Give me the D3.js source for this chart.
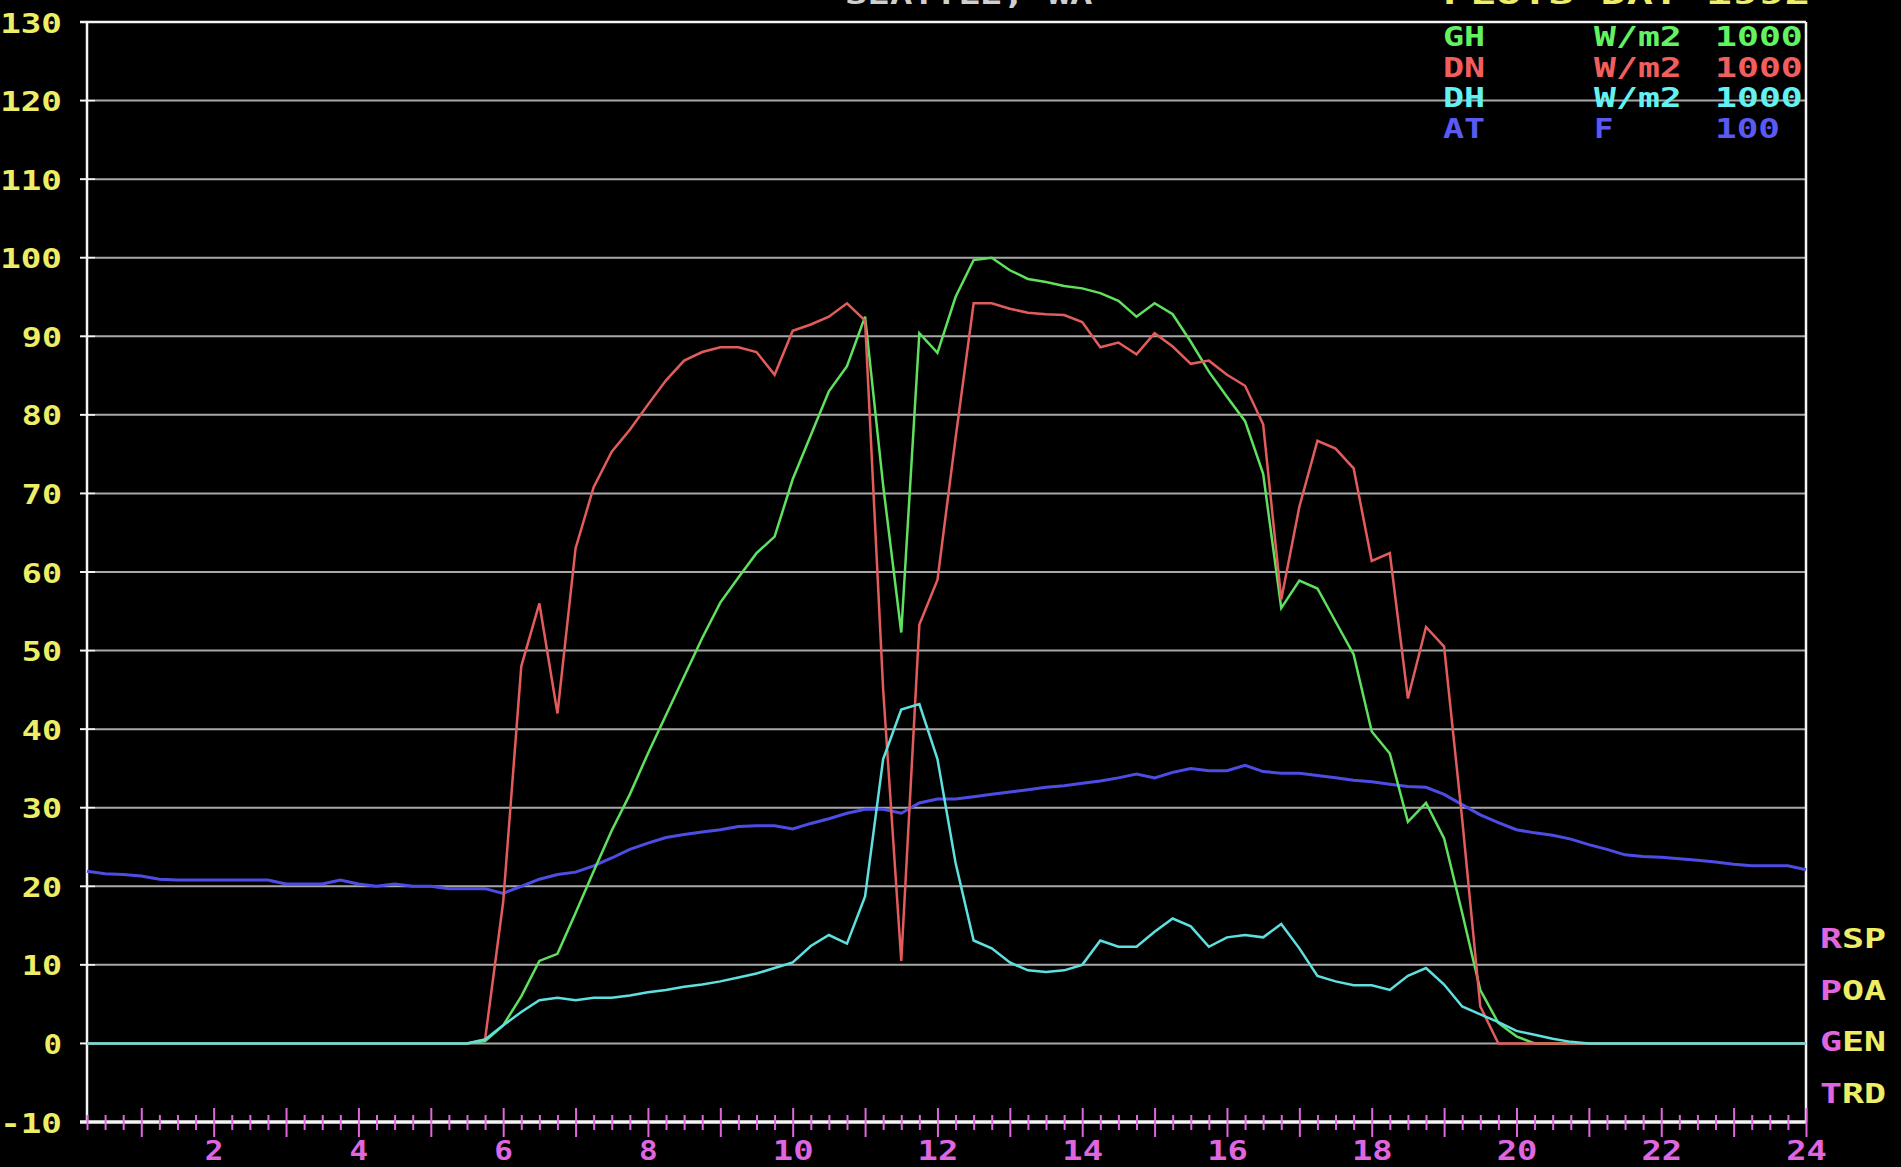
<!DOCTYPE html>
<html>
<head>
<meta charset="utf-8">
<script src="https://cdn.jsdelivr.net/npm/d3@7"></script>
<style>
	html, body { margin: 0; padding: 0; background: #000; overflow: hidden; }
	svg { display: block; }
</style>
</head>
<body>
<svg id="chart" width="1901" height="1167"></svg>
<script>
// 15 minute slots, 0:15 .. 24:00
const hours = [
	0.25, 0.5, 0.75, 1, 1.25, 1.5, 1.75, 2, 2.25, 2.5, 2.75, 3, 3.25, 3.5, 3.75, 4,
	4.25, 4.5, 4.75, 5, 5.25, 5.5, 5.75, 6, 6.25, 6.5, 6.75, 7, 7.25, 7.5, 7.75, 8,
	8.25, 8.5, 8.75, 9, 9.25, 9.5, 9.75, 10, 10.25, 10.5, 10.75, 11, 11.25, 11.5, 11.75, 12,
	12.25, 12.5, 12.75, 13, 13.25, 13.5, 13.75, 14, 14.25, 14.5, 14.75, 15, 15.25, 15.5, 15.75, 16,
	16.25, 16.5, 16.75, 17, 17.25, 17.5, 17.75, 18, 18.25, 18.5, 18.75, 19, 19.25, 19.5, 19.75, 20,
	20.25, 20.5, 20.75, 21, 21.25, 21.5, 21.75, 22, 22.25, 22.5, 22.75, 23, 23.25, 23.5, 23.75, 24
];

// GH - global horizontal (W/m2 / 10)
const ghValues = [
	0, 0, 0, 0, 0, 0, 0, 0, 0, 0, 0, 0, 0, 0, 0, 0,
	0, 0, 0, 0, 0, 0, 0.3, 2.3, 6, 10.5, 11.4, 16.6, 21.9, 27.1, 31.7, 36.9,
	41.8, 46.7, 51.6, 56.1, 59.3, 62.4, 64.5, 71.8, 77.4, 83, 86.2, 92.5, 71, 52.3, 90.4, 87.9,
	95, 99.7, 100, 98.4, 97.3, 96.9, 96.4, 96.1, 95.5, 94.5, 92.5, 94.2, 92.8, 89.3, 85.5, 82.3,
	79.2, 72.5, 55.4, 58.9, 57.9, 53.7, 49.5, 39.7, 36.9, 28.2, 30.6, 26.1, 16.6, 6.8, 2.6, 0.9,
	0, 0, 0, 0, 0, 0, 0, 0, 0, 0, 0, 0, 0, 0, 0, 0
];

// DN - direct normal
const dnValues = [
	0, 0, 0, 0, 0, 0, 0, 0, 0, 0, 0, 0, 0, 0, 0, 0,
	0, 0, 0, 0, 0, 0, 0.5, 18, 48, 56, 42, 63, 70.8, 75.3, 78.1, 81.3,
	84.4, 86.9, 88, 88.6, 88.6, 88, 85.1, 90.7, 91.5, 92.5, 94.2, 92, 45, 10.5, 53.3, 59,
	77, 94.2, 94.2, 93.5, 93, 92.8, 92.7, 91.8, 88.6, 89.2, 87.7, 90.4, 88.7, 86.5, 86.9, 85.1,
	83.7, 78.8, 56.5, 68.3, 76.7, 75.7, 73.2, 61.4, 62.4, 43.9, 53, 50.5, 28.5, 4.7, 0, 0,
	0, 0, 0, 0, 0, 0, 0, 0, 0, 0, 0, 0, 0, 0, 0, 0
];

// DH - diffuse horizontal
const dhValues = [
	0, 0, 0, 0, 0, 0, 0, 0, 0, 0, 0, 0, 0, 0, 0, 0,
	0, 0, 0, 0, 0, 0, 0.5, 2.3, 4, 5.5, 5.8, 5.5, 5.8, 5.8, 6.1, 6.5,
	6.8, 7.2, 7.5, 7.9, 8.4, 8.9, 9.6, 10.3, 12.4, 13.8, 12.7, 18.7, 36.2, 42.5, 43.2, 36.2,
	23, 13.1, 12.1, 10.3, 9.3, 9.1, 9.3, 10, 13.1, 12.3, 12.3, 14.2, 15.9, 14.9, 12.3, 13.5,
	13.8, 13.5, 15.2, 12.1, 8.6, 7.9, 7.4, 7.4, 6.8, 8.6, 9.6, 7.5, 4.7, 3.7, 2.7, 1.6,
	1.1, 0.6, 0.2, 0, 0, 0, 0, 0, 0, 0, 0, 0, 0, 0, 0, 0
];

// AT - air temperature (F)
const atValues = [
	21.9, 21.6, 21.5, 21.3, 20.9, 20.8, 20.8, 20.8, 20.8, 20.8, 20.8, 20.3, 20.3, 20.3, 20.8, 20.3,
	20, 20.3, 20, 20, 19.7, 19.7, 19.7, 19.1, 20, 20.9, 21.5, 21.8, 22.6, 23.6, 24.7, 25.5,
	26.2, 26.6, 26.9, 27.2, 27.6, 27.7, 27.7, 27.3, 28, 28.6, 29.3, 29.8, 29.8, 29.3, 30.6, 31.1,
	31.1, 31.4, 31.7, 32, 32.3, 32.6, 32.8, 33.1, 33.4, 33.8, 34.3, 33.8, 34.5, 35, 34.7, 34.7,
	35.4, 34.6, 34.4, 34.4, 34.1, 33.8, 33.5, 33.3, 33, 32.7, 32.6, 31.7, 30.4, 29.1, 28.1, 27.2,
	26.8, 26.5, 26, 25.3, 24.7, 24, 23.8, 23.7, 23.5, 23.3, 23.1, 22.8, 22.6, 22.6, 22.6, 22.1
];

const yTicks = [-10, 0, 10, 20, 30, 40, 50, 60, 70, 80, 90, 100, 110, 120, 130];
const xLabelTicks = [2, 4, 6, 8, 10, 12, 14, 16, 18, 20, 22, 24];

const seriesNames = ['GH', 'DN', 'DH', 'AT'];
const seriesUnits = ['W/m2', 'W/m2', 'W/m2', 'F'];
const seriesScales = ['1000', '1000', '1000', '100'];
const sideLabels = ['RSP', 'POA', 'GEN', 'TRD'];
const titleLeft = 'SEATTLE, WA';
const titleRight = 'PLOTS  DAY  1992';

const lineColors = { GH: '#5fe05f', DN: '#e25c5c', DH: '#5fe0e0', AT: '#4d4de6' };
const textColors = { GH: '#62f262', DN: '#f25e5e', DH: '#62f2f2', AT: '#5a5af2' };
const [yellow, magenta, gray, white] = ['#eeee66', '#e066e0', '#a8a8a8', '#f4f4f4'];

const [plotLeft, plotRight, plotTop, plotBottom] = [87, 1806, 22, 1122];
const font = "'DejaVu Sans Mono', 'Liberation Mono', monospace";
const [fontSize, capHalf] = [27, 10];

const x = d3.scaleLinear([0.25, 24], [plotLeft, plotRight]);
const y = d3.scaleLinear([-10, 130], [plotBottom, plotTop]);

const svg = d3.select('#chart');
svg.append('rect').attr('width', 1901).attr('height', 1167).attr('fill', '#000');

// blocky wide text: stretch each string to a fixed character cell
// (text-anchor is forced to start, d3 axis groups set their own anchor)
function blockText(g, str, px, py, color, cell, anchor) {
	const w = str.length * cell - cell * 0.15;
	const left = anchor === 'end' ? px - w : anchor === 'middle' ? px - w / 2 : px;
	return g
		.append('text')
		.attr('x', left)
		.attr('y', py + capHalf)
		.attr('text-anchor', 'start')
		.attr('fill', color)
		.attr('font-family', font)
		.attr('font-weight', 'bold')
		.attr('font-size', fontSize)
		.attr('textLength', w)
		.attr('lengthAdjust', 'spacingAndGlyphs')
		.text(str);
}

// grid lines (gray) with short white stubs left of the axis
const grid = svg.append('g');
grid
	.selectAll('line.grid')
	.data(yTicks.filter(v => v !== 130 && v !== -10))
	.join('line')
	.attr('x1', plotLeft + 8)
	.attr('x2', plotRight)
	.attr('y1', d => y(d))
	.attr('y2', d => y(d))
	.attr('stroke', gray)
	.attr('stroke-width', 2);
grid
	.selectAll('line.stub')
	.data(yTicks)
	.join('line')
	.attr('x1', plotLeft - 7)
	.attr('x2', plotLeft + 8)
	.attr('y1', d => y(d))
	.attr('y2', d => y(d))
	.attr('stroke', white)
	.attr('stroke-width', 2);

// frame: top, left, right
grid.append('line').attr('x1', plotLeft - 7).attr('x2', plotRight).attr('y1', y(130)).attr('y2', y(130)).attr('stroke', white).attr('stroke-width', 2.5);
grid.append('line').attr('x1', plotLeft).attr('x2', plotLeft).attr('y1', y(130)).attr('y2', y(-10)).attr('stroke', white).attr('stroke-width', 2.5);
grid.append('line').attr('x1', plotRight).attr('x2', plotRight).attr('y1', y(130)).attr('y2', y(-10)).attr('stroke', white).attr('stroke-width', 2.5);

// y axis labels
svg
	.append('g')
	.attr('transform', `translate(${plotLeft},0)`)
	.call(d3.axisLeft(y).tickValues(yTicks).tickSize(0).tickFormat(''))
	.call(g => g.select('.domain').remove())
	.selectAll('.tick')
	.each(function (d) {
		blockText(d3.select(this), String(d), -25, 0, yellow, 21.7, 'end');
	});

// x axis: white base line, magenta 15 min ticks, bigger ones every hour
const xAxis = svg
	.append('g')
	.attr('transform', `translate(0,${plotBottom})`)
	.call(d3.axisBottom(x).tickValues(hours).tickSize(0).tickFormat(''));
xAxis.select('.domain').remove();
xAxis
	.insert('line', ':first-child')
	.attr('x1', plotLeft - 7)
	.attr('x2', plotRight)
	.attr('stroke', white)
	.attr('stroke-width', 3.5);
xAxis
	.selectAll('.tick line')
	.attr('stroke', magenta)
	.attr('stroke-width', 2)
	.attr('y1', d => (Number.isInteger(d) ? -14 : -7))
	.attr('y2', d => (Number.isInteger(d) ? 15 : 8));

svg
	.append('g')
	.attr('transform', `translate(0,${plotBottom})`)
	.call(d3.axisBottom(x).tickValues(xLabelTicks).tickSize(0).tickFormat(''))
	.call(g => g.select('.domain').remove())
	.selectAll('.tick')
	.each(function (d) {
		blockText(d3.select(this), String(d), 0, 28, magenta, 22, 'middle');
	});

// data lines
const seriesValues = { GH: ghValues, DN: dnValues, DH: dhValues, AT: atValues };
const makeLine = d3
	.line()
	.x(d => x(d[0]))
	.y(d => y(d[1]));
const lines = svg.append('g');
['AT', 'GH', 'DN', 'DH'].forEach(name => {
	lines
		.append('path')
		.attr('fill', 'none')
		.attr('stroke', lineColors[name])
		.attr('stroke-width', name === 'AT' ? 3 : 2.5)
		.attr('stroke-linejoin', 'miter')
		.attr('d', makeLine(d3.zip(hours, seriesValues[name])));
});

// legend top right
const legend = svg.append('g');
seriesNames.forEach((name, i) => {
	const rowY = 36 + i * 30.5;
	blockText(legend, name, 1443, rowY, textColors[name], 22.8);
	blockText(legend, seriesUnits[i], 1594, rowY, textColors[name], 22.8);
	blockText(legend, seriesScales[i], 1715, rowY, textColors[name], 22.8);
});

// right side labels: first letter magenta, rest yellow
const side = svg.append('g');
sideLabels.forEach((label, i) => {
	const t = blockText(side, '', 1820, 938 + i * 51.7, yellow, 23.2).text(null);
	t.attr('textLength', label.length * 23.2 - 3.5);
	t.append('tspan').attr('fill', magenta).text(label[0]);
	t.append('tspan').attr('fill', yellow).text(label.slice(1));
});

// titles cut off by the top edge
blockText(svg.append('g'), titleLeft, 845, -6, '#cfcfcf', 22.8);
blockText(svg.append('g'), titleRight, 1443, -6, yellow, 23.2);
</script>
</body>
</html>
